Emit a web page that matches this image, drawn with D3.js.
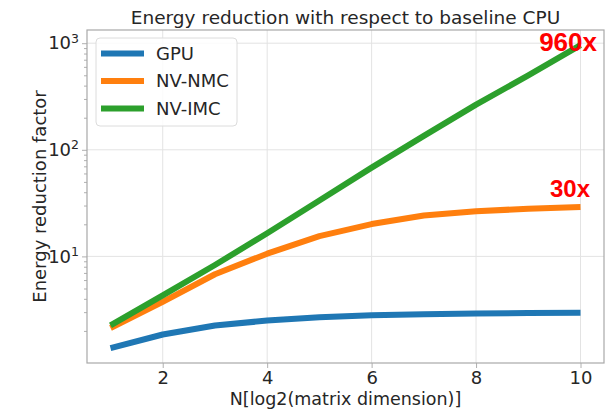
<!DOCTYPE html>
<html>
<head>
<meta charset="utf-8">
<script src="https://cdn.jsdelivr.net/npm/d3@7"></script>
<style>
  body { margin: 0; background: #fff; }
  text { font-family: "DejaVu Sans", sans-serif; fill: #262626; }
</style>
</head>
<body>
<div id="chart"></div>
<script>
// data
const n = [1, 2, 3, 4, 5, 6, 7, 8, 9, 10];
const gpu = [1.38, 1.85, 2.25, 2.5, 2.68, 2.8, 2.86, 2.91, 2.94, 2.96];
const nvNmc = [2.13, 3.75, 6.8, 10.6, 15.5, 20.1, 24.2, 26.5, 28, 29];
const nvImc = [2.25, 4.3, 8.3, 16.5, 33.5, 68, 135, 265, 500, 960];
const seriesNames = ["GPU", "NV-NMC", "NV-IMC"];
const colors = ["#1f77b4", "#ff7f0e", "#2ca02c"];
const xTicks = [2, 4, 6, 8, 10];
const yTicks = [10, 100, 1000];

const width = 611;
const height = 409;
const margin = { top: 30, right: 7, bottom: 46, left: 87 };

const svg = d3.select("#chart").append("svg")
  .attr("width", width)
  .attr("height", height);

const x = d3.scaleLinear()
  .domain([0.55, 10.45])
  .range([margin.left, width - margin.right]);

const y = d3.scaleLog()
  .domain([1.0, 1330])
  .range([height - margin.bottom, margin.top]);

// grid
svg.append("g")
  .selectAll("line")
  .data(xTicks)
  .join("line")
  .attr("x1", d => x(d)).attr("x2", d => x(d))
  .attr("y1", margin.top).attr("y2", height - margin.bottom)
  .attr("stroke", "#e3e3e3").attr("stroke-width", 1);

svg.append("g")
  .selectAll("line")
  .data(yTicks)
  .join("line")
  .attr("x1", margin.left).attr("x2", width - margin.right)
  .attr("y1", d => y(d)).attr("y2", d => y(d))
  .attr("stroke", "#e3e3e3").attr("stroke-width", 1);

// series
const series = [gpu, nvNmc, nvImc];
const line = d3.line()
  .x((d, i) => x(n[i]))
  .y(d => y(d));

svg.append("g")
  .selectAll("path")
  .data(series)
  .join("path")
  .attr("d", d => line(d))
  .attr("fill", "none")
  .attr("stroke", (d, i) => colors[i])
  .attr("stroke-width", 6)
  .attr("stroke-linejoin", "round");

// x axis
const xAxis = svg.append("g")
  .attr("transform", `translate(0,${height - margin.bottom})`)
  .call(d3.axisBottom(x).tickValues(xTicks).tickSize(5).tickPadding(3));
xAxis.select(".domain").remove();
xAxis.selectAll("line").attr("stroke", "#b0b0b0");
xAxis.selectAll("text").style("font-size", "18px").style("font-family", "DejaVu Sans").attr("fill", "#262626");

// y axis, minor ticks without labels
const minor = [];
for (let e = 0; e < 3; e++) for (let k = 2; k <= 9; k++) minor.push(k * Math.pow(10, e));
const yMinor = svg.append("g")
  .attr("transform", `translate(${margin.left},0)`)
  .call(d3.axisLeft(y).tickValues(minor.filter(v => v >= 1.0)).tickSize(3).tickFormat(""));
yMinor.select(".domain").remove();
yMinor.selectAll("line").attr("stroke", "#b0b0b0");

const yAxis = svg.append("g")
  .attr("transform", `translate(${margin.left},0)`)
  .call(d3.axisLeft(y).tickValues(yTicks).tickSize(5).tickFormat(""));
yAxis.select(".domain").remove();
yAxis.selectAll("line").attr("stroke", "#b0b0b0");

const yLab = yAxis.selectAll(".tick")
  .append("text")
  .attr("x", -8)
  .attr("dy", "0.32em")
  .attr("text-anchor", "end")
  .style("font-size", "18px")
  .attr("fill", "#262626");
yLab.append("tspan").text("10");
yLab.append("tspan")
  .attr("dy", "-0.55em")
  .style("font-size", "12.5px")
  .text(d => Math.round(Math.log10(d)));

// frame
svg.append("rect")
  .attr("x", margin.left).attr("y", margin.top)
  .attr("width", width - margin.left - margin.right)
  .attr("height", height - margin.top - margin.bottom)
  .attr("fill", "none")
  .attr("stroke", "#a8a8a8")
  .attr("stroke-width", 1.2);

// titles
svg.append("text")
  .attr("x", (margin.left + width - margin.right) / 2)
  .attr("y", 24)
  .attr("text-anchor", "middle")
  .style("font-size", "18.5px")
  .text("Energy reduction with respect to baseline CPU");

svg.append("text")
  .attr("x", (margin.left + width - margin.right) / 2)
  .attr("y", 405)
  .attr("text-anchor", "middle")
  .style("font-size", "17.5px")
  .text("N[log2(matrix dimension)]");

svg.append("text")
  .attr("transform", `translate(46,${(margin.top + height - margin.bottom) / 2}) rotate(-90)`)
  .attr("text-anchor", "middle")
  .style("font-size", "18px")
  .text("Energy reduction factor");

// legend
const legend = svg.append("g").attr("transform", "translate(96,38)");
legend.append("rect")
  .attr("width", 141).attr("height", 88)
  .attr("rx", 4)
  .attr("fill", "#fff").attr("fill-opacity", 0.85)
  .attr("stroke", "#dcdcdc");
const item = legend.selectAll(".item")
  .data(seriesNames)
  .join("g")
  .attr("class", "item")
  .attr("transform", (d, i) => `translate(0,${15.5 + i * 27.5})`);
item.append("line")
  .attr("x1", 5).attr("x2", 48)
  .attr("stroke", (d, i) => colors[i])
  .attr("stroke-width", 6);
item.append("text")
  .attr("x", 60)
  .attr("dy", "0.35em")
  .style("font-size", "18px")
  .text(d => d);

// annotations
svg.append("text")
  .attr("x", 597).attr("y", 51)
  .attr("text-anchor", "end")
  .style("font-family", "Liberation Sans, Arial, sans-serif")
  .style("font-weight", "bold")
  .style("font-size", "26px")
  .style("fill", "#ff0000")
  .text(d3.format("d")(nvImc[nvImc.length - 1]) + "x");

svg.append("text")
  .attr("x", 590).attr("y", 197)
  .attr("text-anchor", "end")
  .style("font-family", "Liberation Sans, Arial, sans-serif")
  .style("font-weight", "bold")
  .style("font-size", "24px")
  .style("fill", "#ff0000")
  .text("30x");
</script>
</body>
</html>
